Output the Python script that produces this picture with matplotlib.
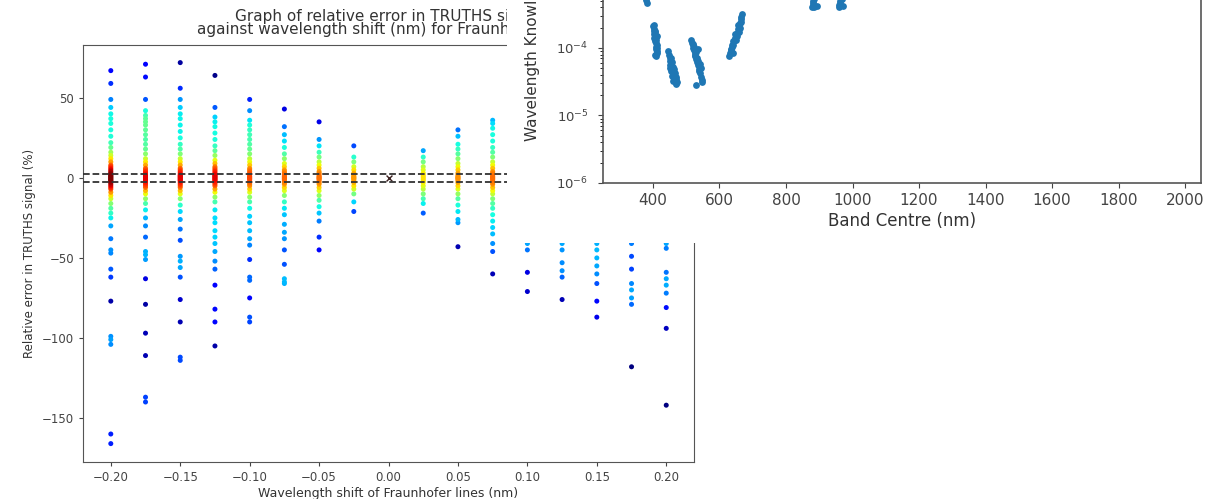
import numpy as np
import matplotlib.pyplot as plt
from matplotlib.patches import Rectangle
from matplotlib.ticker import FixedLocator

# ── 1. Data : relative error per wavelength shift ─────────────
shifts = [-0.20, -0.175, -0.15, -0.125, -0.10, -0.075, -0.05, -0.025,
          0.025, 0.05, 0.075, 0.10, 0.125, 0.15, 0.175, 0.20]

err_m200 = [67, 59, 49, 44, 40, 37, 34, 30, 26, 22, 19, 16, 14, 12, 10, 8, 7, 6, 5, 4, 3, 2.5, 2, 1.5,
            1, 0.5, 0, -0.5, -1, -1.5, -2, -2.5, -3, -4, -5, -6, -7, -9, -11, -13, -16, -19, -22,
            -25, -30, -38, -45, -47, -57, -62, -77, -99, -101, -104, -160, -166]
err_m175 = [71, 63, 49, 42, 39, 37, 35, 33, 30, 27, 24, 21, 18, 15, 12, 10, 8, 6, 5, 4, 3, 2, 1.5, 1,
            0.5, 0, -0.5, -1, -1.5, -2, -3, -4, -5, -6, -8, -10, -13, -16, -20, -25, -30, -37, -46,
            -48, -51, -63, -79, -97, -111, -137, -140]
err_m150 = [72, 56, 49, 44, 40, 37, 33, 29, 25, 21, 18, 15, 12, 10, 8, 6, 5, 4, 3, 2, 1.5, 1, 0.5, 0,
            -0.5, -1, -1.5, -2, -3, -4, -5, -6, -8, -10, -13, -17, -21, -26, -32, -39, -49, -52, -56,
            -62, -76, -90, -112, -114]
err_m125 = [64, 44, 38, 35, 32, 28, 24, 20, 17, 14, 11, 9, 7, 6, 5, 4, 3, 2, 1.5, 1, 0.5, 0, -0.5, -1,
            -1.5, -2, -3, -4, -5, -7, -9, -12, -15, -20, -25, -28, -33, -37, -41, -46, -52, -57,
            -67, -82, -90, -105]
err_m100 = [49, 42, 36, 33, 30, 27, 24, 21, 18, 15, 12, 10, 8, 6, 5, 4, 3, 2, 1, 0.5, 0, -0.5, -1, -2,
            -3, -4, -5, -7, -9, -12, -15, -19, -24, -28, -33, -38, -42, -51, -62, -64, -75, -87, -90]
err_m075 = [43, 32, 27, 23, 19, 15, 12, 9, 7, 5, 4, 3, 2, 1, 0.5, 0, -0.5, -1, -2, -3, -4, -6, -8,
            -11, -15, -19, -23, -29, -34, -38, -45, -54, -63, -65, -66]
err_m050 = [35, 24, 20, 16, 13, 10, 8, 6, 4, 3, 2, 1, 0.5, 0, -0.5, -1, -2, -3, -4, -6, -8, -11, -14,
            -18, -22, -27, -37, -45]
err_m025 = [20, 13, 10, 7, 5, 3, 2, 1, 0.5, 0, -0.5, -1, -2, -3, -5, -7, -10, -15, -21]
err_p025 = [17, 13, 10, 7, 5, 3, 2, 1, 0, -1, -2, -3, -5, -7, -10, -13, -16, -22]
err_p050 = [30, 26, 21, 18, 15, 12, 9, 7, 5, 3, 2, 1, 0.5, 0, -0.5, -1, -2, -3, -5, -7, -10, -13,
            -17, -21, -26, -28, -43]
err_p075 = [36, 34, 31, 27, 23, 19, 16, 13, 10, 8, 6, 4, 3, 2, 1, 0.5, 0, -0.5, -1, -2, -3, -4, -6,
            -8, -10, -13, -16, -19, -23, -27, -31, -35, -41, -46, -60]
err_p100 = [38, 30, 24, 19, 15, 11, 8, 6, 4, 3, 2, 1, 0.5, 0, -0.5, -1, -2, -3, -5, -7, -10, -14,
            -19, -25, -31, -37, -41, -45, -59, -71]
err_p125 = [33, 26, 20, 15, 11, 8, 6, 4, 3, 2, 1, 0.5, 0, -0.5, -1, -2, -3, -5, -7, -10, -14, -19,
            -25, -31, -36, -41, -45, -53, -58, -62, -76]
err_p150 = [36, 28, 22, 17, 13, 10, 7, 5, 3, 2, 1, 0.5, 0, -0.5, -1, -2, -3, -5, -7, -10, -14, -19,
            -24, -30, -35, -41, -45, -50, -55, -60, -66, -77, -87]
err_p175 = [40, 31, 24, 18, 13, 9, 6, 4, 3, 2, 1, 0.5, 0, -0.5, -1, -2, -3, -5, -7, -10, -14, -19,
            -25, -31, -36, -41, -49, -57, -66, -70, -75, -79, -118]
err_p200 = [44, 34, 26, 20, 15, 11, 8, 5, 3, 2, 1, 0.5, 0, -0.5, -1, -2, -3, -5, -7, -10, -14, -19,
            -25, -31, -36, -41, -44, -59, -63, -67, -72, -81, -94, -142]

errors = [err_m200, err_m175, err_m150, err_m125, err_m100, err_m075, err_m050, err_m025,
          err_p025, err_p050, err_p075, err_p100, err_p125, err_p150, err_p175, err_p200]

tolerance = 2.5   # dashed band (%)

# ── 2. Data : wavelength knowledge vs band centre ─────────────
band_centre = [370, 373, 376, 378, 380, 382, 375, 379,
               401, 403, 404, 405, 406, 407, 408, 409, 410, 411, 412, 413, 402, 404, 406, 408, 410,
               412, 405, 409, 403, 407, 411,
               446, 448, 450, 452, 454, 456, 458, 460, 462, 464, 466, 468, 470, 472, 450, 454, 458,
               462, 466, 470, 452, 456, 460, 464, 468, 455, 461,
               515, 517, 519, 521, 523, 525, 527, 530, 533, 536, 539, 542, 545, 548, 520, 524, 528,
               532, 536, 540, 544, 526, 534, 538, 546, 522, 530,
               630, 633, 636, 639, 642, 645, 648, 651, 654, 657, 660, 663, 666, 669, 634, 638, 642,
               646, 650, 654, 658, 662, 666, 640, 648, 656, 664,
               878, 880, 882, 884, 886, 888, 890, 892, 881, 885, 889, 883, 887,
               958, 960, 962, 964, 966, 968, 970, 972, 963, 967]
knowledge = [1.0e-3, 8.0e-4, 6.5e-4, 5.8e-4, 5.2e-4, 4.7e-4, 7.0e-4, 5.5e-4,
             2.1e-4, 2.2e-4, 1.9e-4, 1.8e-4, 1.7e-4, 1.55e-4, 1.45e-4, 1.3e-4, 1.2e-4, 1.1e-4,
             1.0e-4, 9.0e-5, 1.6e-4, 1.4e-4, 1.25e-4, 1.05e-4, 9.5e-5, 8.5e-5, 8.0e-5, 7.6e-5,
             1.8e-4, 1.35e-4, 1.5e-4,
             9.0e-5, 8.0e-5, 7.2e-5, 6.5e-5, 5.9e-5, 5.3e-5, 4.8e-5, 4.4e-5, 4.0e-5, 3.6e-5, 3.3e-5,
             3.0e-5, 2.9e-5, 3.1e-5, 5.0e-5, 4.5e-5, 3.8e-5, 3.4e-5, 4.2e-5, 3.5e-5, 5.6e-5, 6.2e-5,
             3.2e-5, 4.8e-5, 3.7e-5, 7.0e-5, 5.2e-5,
             1.3e-4, 1.2e-4, 1.1e-4, 1.0e-4, 9.2e-5, 8.4e-5, 7.6e-5, 6.9e-5, 6.2e-5, 5.5e-5, 4.9e-5,
             4.3e-5, 3.7e-5, 3.1e-5, 1.15e-4, 9.8e-5, 8.8e-5, 7.2e-5, 6.5e-5, 5.8e-5, 5.0e-5,
             8.0e-5, 9.5e-5, 4.5e-5, 3.4e-5, 1.05e-4, 2.8e-5,
             7.5e-5, 8.3e-5, 9.2e-5, 1.02e-4, 1.12e-4, 1.25e-4, 1.38e-4, 1.52e-4, 1.68e-4, 1.88e-4,
             2.1e-4, 2.35e-4, 2.7e-4, 3.2e-4, 9.8e-5, 1.1e-4, 1.25e-4, 1.4e-4, 1.3e-4, 1.5e-4,
             1.75e-4, 2.0e-4, 2.4e-4, 8.5e-5, 1.6e-4, 2.2e-4, 2.9e-4,
             4.0e-4, 4.4e-4, 5.0e-4, 5.8e-4, 6.8e-4, 8.0e-4, 9.5e-4, 4.2e-4, 4.7e-4, 5.4e-4,
             6.2e-4, 4.1e-4, 7.2e-4,
             4.0e-4, 4.4e-4, 5.0e-4, 5.7e-4, 6.5e-4, 7.5e-4, 8.8e-4, 4.2e-4, 4.6e-4, 5.3e-4]

# ── 3. Figure ─────────────────────────────────────────────────
fig = plt.figure(figsize=(12.21, 4.99), dpi=100)

# left chart : density-coloured scatter
ax = fig.add_axes([0.068, 0.0741, 0.5004, 0.8357])

xs, ys, dens = [], [], []
for s, col in zip(shifts, errors):
    v = np.array(col, dtype=float)
    d = np.exp(-0.5 * ((v[:, None] - v[None, :]) / 6.0) ** 2).sum(axis=1)
    xs += [s] * len(v)
    ys += list(v)
    dens += list(d)
xs, ys, dens = np.array(xs), np.array(ys), np.array(dens)
dens = (dens - dens.min()) / (dens.max() - dens.min())
order = np.argsort(dens)
ax.scatter(xs[order], ys[order], c=dens[order] ** 0.55, cmap="jet", s=13, linewidths=0, zorder=2)
ax.scatter([0.0], [0.0], marker="x", c="#3b2020", s=18, linewidths=1, zorder=2)

ax.axhline(tolerance, color="#333333", ls="--", lw=1.3, zorder=3)
ax.axhline(-tolerance, color="#333333", ls="--", lw=1.3, zorder=3)

ax.set_xlim(-0.22, 0.22)
ax.set_ylim(-177.5, 83)
ax.set_xticks([-0.20, -0.15, -0.10, -0.05, 0.00, 0.05, 0.10, 0.15, 0.20])
ax.set_yticks([50, 0, -50, -100, -150])
ax.tick_params(labelsize=8.5, colors="#444444", length=3)
for sp in ax.spines.values():
    sp.set_color("#555555")
ax.set_xlabel("Wavelength shift of Fraunhofer lines (nm)", fontsize=9, color="#333333", labelpad=2)
ax.set_ylabel("Relative error in TRUTHS signal (%)", fontsize=8.5, color="#333333")
ax.set_title("Graph of relative error in TRUTHS signal\n"
             "against wavelength shift (nm) for Fraunhofer lines",
             fontsize=11, color="#333333", pad=8, linespacing=0.85)

# overlay panel (white box on top of the right part)
fig.add_artist(Rectangle((0.4152, 0.513), 0.5848, 0.487, transform=fig.transFigure,
                         facecolor="white", edgecolor="none", zorder=1))

ax2 = fig.add_axes([0.4939, 0.6333, 0.4898, 0.667])
ax2.set_zorder(2)
ax2.scatter(band_centre, knowledge, color="#1f77b4", s=24, linewidths=0)
ax2.set_yscale("log")
ax2.set_xlim(250, 2048)
ax2.set_ylim(1e-6, 10 ** -1.07)
ax2.yaxis.set_major_locator(FixedLocator([1e-6, 1e-5, 1e-4]))
ax2.set_xticks(range(400, 2001, 200))
ax2.tick_params(labelsize=11, colors="#444444")
ax2.tick_params(axis="y", which="both", labelsize=9.5, pad=7)
for sp in ax2.spines.values():
    sp.set_color("#555555")
    sp.set_linewidth(1.2)
ax2.set_xlabel("Band Centre (nm)", fontsize=12, color="#333333", labelpad=3)
fig.text(532 / 1221, (499 - 141) / 499, "Wavelength Knowledge Requirement (nm)",
         rotation=90, ha="center", va="bottom", fontsize=11, color="#333333", zorder=3)

plt.savefig("out.png", dpi=100)
